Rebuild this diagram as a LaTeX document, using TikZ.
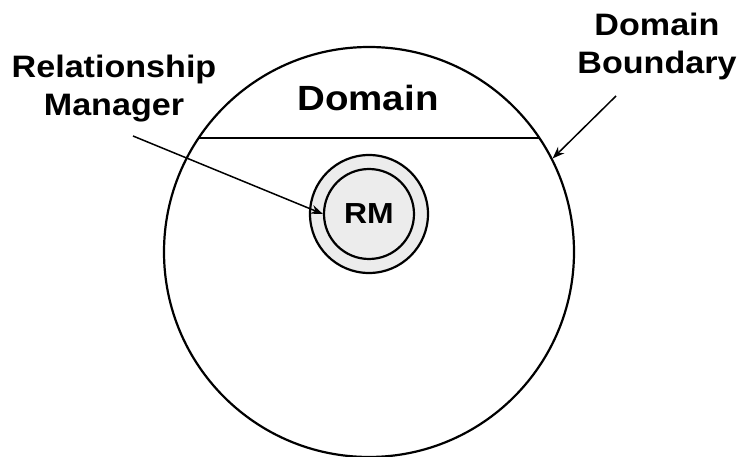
\documentclass[tikz,border=0pt]{standalone}
\usepackage{fontspec}
\newfontfamily\labelfont[FakeStretch=1.1]{Liberation Sans}
\usepackage{tikz}
\usetikzlibrary{arrows.meta}

\tikzset{
  lbl/.style={font=\labelfont\bfseries\fontsize{31}{38}\selectfont, align=center, inner sep=0pt},
  ptr/.style={-{Stealth[length=12pt,width=9pt]}, line width=1.5pt},
}

\begin{document}
\begin{tikzpicture}[x=1pt,y=-1pt]
\useasboundingbox (0,0) rectangle (737,457);

% Domain circle and its boundary chord
\node[circle, draw, line width=2.2pt, minimum size=410pt, inner sep=0pt] (domain) at (369,252) {};
\begin{scope}
  \clip (domain.center) circle (205pt);
  \draw[line width=1.6pt] (domain.west |- 0,138) -- (domain.east |- 0,138);
\end{scope}
\node[lbl, anchor=base, font=\labelfont\bfseries\fontsize{35}{38}\selectfont] (dname) at (368,111) {Domain};

% Relationship manager
\node[circle, draw, line width=2.2pt, fill=gray!15, minimum size=118pt, inner sep=0pt] (rmring) at (369,214) {};
\node[circle, draw, line width=2.2pt, fill=gray!15, minimum size=90pt, inner sep=0pt, lbl, font=\labelfont\bfseries\fontsize{29}{30}\selectfont] (rm) at (369,214) {RM};

% Labels (base is the last line)
\node[lbl, anchor=base] (rmlbl) at (114,116) {Relationship\\Manager};
\node[lbl, anchor=base] (bdlbl) at (657,74) {Domain\\Boundary};

% Pointers
\coordinate (rmtail) at (133,136);
\coordinate (bdtail) at (616,96);
\draw[ptr] (rmtail) -- (rm.west);
\draw[ptr] (bdtail) -- (domain.27);
\end{tikzpicture}
\end{document}
